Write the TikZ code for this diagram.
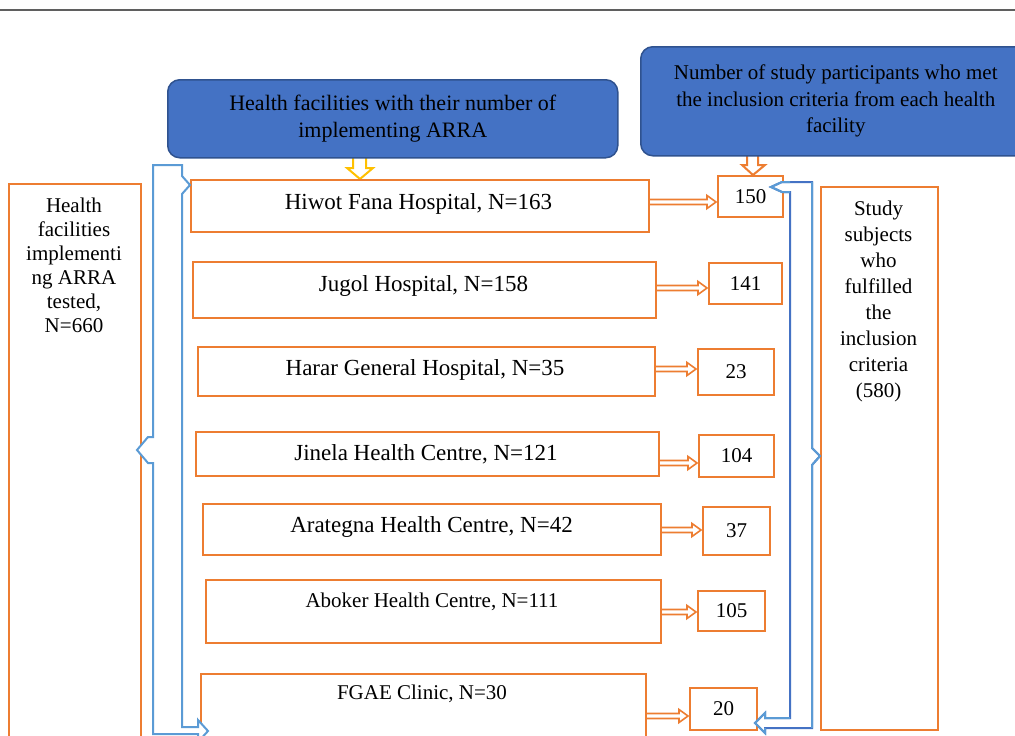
\documentclass[tikz,border=0pt]{standalone}
\usepackage{fontspec}
\setmainfont{Liberation Serif}
\definecolor{oran}{HTML}{ED7D31}
\definecolor{bfill}{HTML}{4472C4}
\definecolor{bdark}{HTML}{2F528F}
\definecolor{lblue}{HTML}{5B9BD5}
\definecolor{gold}{HTML}{FFC000}
\definecolor{gline}{HTML}{5F5F5F}
\newcommand\barr[3]{%
 \draw[oarrow] (#1.east |- 0,#3+2.5) -- ([xshift=-10pt]#2.west |- 0,#3+2.5) -- ([xshift=-10pt]#2.west |- 0,#3+6.5) -- ([xshift=-1pt]#2.west |- 0,#3) -- ([xshift=-10pt]#2.west |- 0,#3-6.5) -- ([xshift=-10pt]#2.west |- 0,#3-2.5) -- (#1.east |- 0,#3-2.5);}
\begin{document}
\begin{tikzpicture}[x=1pt,y=1pt,line join=miter,
  obox/.style={draw=oran,line width=2pt,fill=white,inner sep=0pt,anchor=north west},
  nbox/.style={obox,font=\fontsize{21}{21}\selectfont},
  bigtxt/.style={font=\fontsize{23}{23}\selectfont,anchor=base,inner sep=0pt},
  midtxt/.style={font=\fontsize{21}{21}\selectfont,anchor=base,inner sep=0pt},
  topbox/.style={draw=bdark,line width=1.5pt,fill=bfill,rounded corners=12pt,anchor=north west,align=center,inner sep=0pt},
  oarrow/.style={draw=oran,line width=1.6pt,fill=white},
  brk/.style={line width=2pt,fill=white}]
\clip (0,0) rectangle (1015,-736);
\fill[white] (0,0) rectangle (1015,-736);
\draw[gline,line width=1.5pt] (0,-10) -- (1015,-10);

% connector block arrows from the top boxes
\draw[gold,line width=2pt,fill=white] (353,-150) -- (353,-168) -- (347,-168) -- (360,-179) -- (373,-168) -- (366,-168) -- (366,-150);
\draw[oran,line width=2pt,fill=white] (747,-150) -- (747,-165) -- (742,-165) -- (753,-175) -- (765,-165) -- (758,-165) -- (758,-150);

% top blue boxes
\node[topbox,minimum width=450pt,minimum height=78pt,font=\fontsize{22}{27}\selectfont] (top1) at (167,-79)
  {Health facilities with their number of\\implementing ARRA};
\node[topbox,minimum width=390pt,minimum height=109pt,font=\fontsize{21}{26.5}\selectfont] (top2) at (640,-46)
  {Number of study participants who met\\the inclusion criteria from each health\\facility};

% left and right big boxes
\node[obox,minimum width=132pt,minimum height=570pt] (lbox) at (8,-183) {};
\node[obox,minimum width=117pt,minimum height=543pt] (rbox) at (820,-186) {};
\node[font=\fontsize{21}{24}\selectfont,align=center,anchor=north,inner sep=0pt] (ltxt) at (74,-197.7)
  {Health\\facilities\\implementi\\ng ARRA\\tested,\\N=660};
\node[font=\fontsize{21}{26}\selectfont,align=center,anchor=north,inner sep=0pt] (rtxt) at (878.5,-200.7)
  {Study\\subjects\\who\\fulfilled\\the\\inclusion\\criteria\\(580)};

% facility boxes
\node[obox,minimum width=458pt,minimum height=52pt] (h1) at (190,-179) {};
\node[obox,minimum width=463pt,minimum height=56pt] (h2) at (192,-261) {};
\node[obox,minimum width=457pt,minimum height=49pt] (h3) at (197,-346) {};
\node[obox,minimum width=463pt,minimum height=44pt] (h4) at (195,-431) {};
\node[obox,minimum width=458pt,minimum height=51pt] (h5) at (202,-503) {};
\node[obox,minimum width=455pt,minimum height=63pt] (h6) at (205,-579) {};
\node[obox,minimum width=445pt,minimum height=75pt] (h7) at (200,-673) {};
\node[bigtxt] (t1) at (418.5,-209) {Hiwot Fana Hospital, N=163};
\node[bigtxt] (t2) at (423.5,-291.6) {Jugol Hospital, N=158};
\node[bigtxt] (t3) at (425,-375.6) {Harar General Hospital, N=35};
\node[bigtxt] (t4) at (426,-460.6) {Jinela Health Centre, N=121};
\node[bigtxt] (t5) at (431.5,-532.6) {Arategna Health Centre, N=42};
\node[midtxt] (t6) at (432,-607) {Aboker Health Centre, N=111};
\node[midtxt] (t7) at (422,-699) {FGAE Clinic, N=30};

% number boxes
\node[nbox,minimum width=65pt,minimum height=41pt] (n1) at (717,-175) {150};
\node[nbox,minimum width=73pt,minimum height=41pt] (n2) at (708,-262) {141};
\node[nbox,minimum width=76pt,minimum height=46pt] (n3) at (697,-348) {23};
\node[nbox,minimum width=75pt,minimum height=42pt] (n4) at (698,-434) {104};
\node[nbox,minimum width=67pt,minimum height=48pt] (n5) at (702,-506) {37};
\node[nbox,minimum width=67pt,minimum height=40pt] (n6) at (697,-590) {105};
\node[nbox,minimum width=67pt,minimum height=42pt] (n7) at (689,-687) {20};

% double arrows
\barr{h1}{n1}{-202}
\barr{h2}{n2}{-288}
\barr{h3}{n3}{-369}
\barr{h4}{n4}{-463}
\barr{h5}{n5}{-530}
\barr{h6}{n6}{-612}
\barr{h7}{n7}{-716}

% brackets (drawn on top)
\draw[brk,draw=lblue] (153,-165) -- (182,-165) -- (182,-176) -- (190,-185) -- (182,-194) -- (182,-727)
  -- (198,-727) -- (198,-720) -- (208,-731) -- (198,-742) -- (198,-734) -- (153,-734)
  -- (153,-463) -- (148,-463) -- (137,-450) -- (148,-437) -- (153,-437) -- cycle;
\draw[brk,draw=bfill] (790,-182) -- (812,-182) -- (812,-448) -- (820,-456) -- (812,-465) -- (812,-728)
  -- (765,-728) -- (765,-733) -- (755,-723) -- (765,-713) -- (765,-718) -- (790,-718)
  -- (790,-192) -- (782,-192) -- (771,-187) -- (782,-182) -- cycle;
\draw[lblue,line width=2pt] (812,-182) -- (812,-448) -- (820,-456) -- (812,-465) -- (812,-728);
\draw[lblue,line width=2pt] (790,-192) -- (782,-192) -- (771,-187) -- (782,-182) -- (790,-182);
\draw[lblue,line width=2pt] (790,-718) -- (765,-718) -- (765,-713) -- (755,-723) -- (765,-733) -- (765,-728);
\end{tikzpicture}
\end{document}
